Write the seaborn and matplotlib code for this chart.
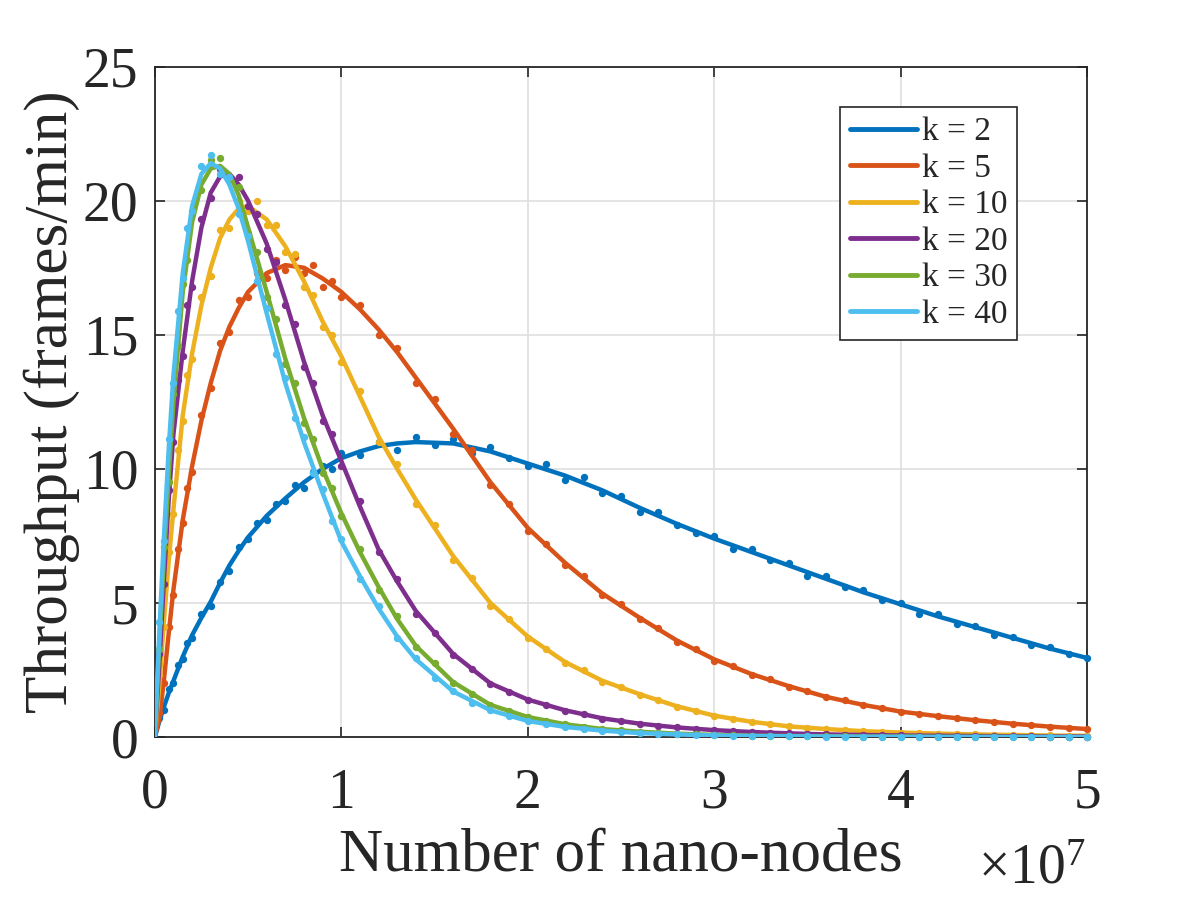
import numpy as np
import pandas as pd
import seaborn as sns
import matplotlib.pyplot as plt

# x positions are in units of 1e7 nano-nodes (axis shows x10^7)
x_line = [0, 0.025, 0.05, 0.075, 0.1, 0.15, 0.2, 0.25, 0.3, 0.35, 0.4, 0.45, 0.5,
          0.6, 0.7, 0.8, 0.9, 1.0, 1.1, 1.2, 1.3, 1.4, 1.6, 1.8, 2.0,
          2.2, 2.4, 2.6, 2.8, 3.0, 3.2, 3.4, 3.6, 3.8, 4.0, 4.2, 4.4, 4.6, 4.8, 5.0]

# fitted curves
k2_line = [0, 0.6, 1.15, 1.65, 2.1, 3.0, 3.8, 4.45, 5.05, 5.75, 6.4, 6.95, 7.45,
           8.25, 8.9, 9.5, 10.0, 10.4, 10.65, 10.85, 10.95, 11.0, 10.95, 10.65, 10.2,
           9.75, 9.2, 8.55, 7.95, 7.4, 6.9, 6.4, 5.9, 5.4, 4.95, 4.5, 4.1, 3.7, 3.3, 2.95]
k5_line = [0, 0.7, 2.2, 3.9, 5.5, 8.1, 10.1, 11.8, 13.2, 14.4, 15.3, 16.0, 16.6,
           17.3, 17.6, 17.5, 17.1, 16.6, 15.95, 15.2, 14.35, 13.4, 11.5, 9.5, 7.8,
           6.5, 5.35, 4.45, 3.6, 2.9, 2.35, 1.9, 1.5, 1.2, 0.95, 0.78, 0.63, 0.5, 0.39, 0.3]
k10_line = [0, 2.0, 4.4, 6.6, 8.5, 12.0, 14.3, 16.1, 17.5, 18.6, 19.3, 19.7, 19.8,
            19.3, 18.3, 17.0, 15.5, 14.2, 12.7, 11.2, 10.0, 8.85, 6.75, 5.0, 3.75,
            2.8, 2.1, 1.6, 1.15, 0.8, 0.57, 0.4, 0.3, 0.22, 0.17, 0.13, 0.1, 0.08, 0.06, 0.05]
k20_line = [0, 2.8, 6.0, 8.9, 11.3, 14.4, 17.0, 19.0, 20.3, 20.9, 21.0, 20.6, 20.0,
            18.4, 16.3, 14.0, 12.0, 10.3, 8.6, 7.0, 5.8, 4.7, 3.1, 2.0, 1.4,
            1.0, 0.7, 0.5, 0.36, 0.26, 0.19, 0.14, 0.1, 0.08, 0.06, 0.05, 0.04, 0.03, 0.02, 0.02]
k30_line = [0, 3.6, 6.8, 9.8, 12.5, 16.6, 19.2, 20.6, 21.2, 21.3, 21.0, 20.2, 19.0,
            16.6, 14.1, 11.9, 10.0, 8.35, 6.9, 5.6, 4.4, 3.4, 2.05, 1.2, 0.75,
            0.48, 0.3, 0.2, 0.13, 0.08, 0.05, 0.04, 0.03, 0.02, 0.02, 0.01, 0.01, 0.01, 0.0, 0.0]
k40_line = [0, 4.0, 7.6, 10.8, 13.5, 17.3, 19.8, 21.0, 21.4, 21.2, 20.6, 19.7, 18.5,
            15.8, 13.2, 11.0, 9.1, 7.3, 6.0, 4.8, 3.75, 2.9, 1.7, 1.0, 0.6,
            0.38, 0.24, 0.15, 0.1, 0.06, 0.04, 0.03, 0.02, 0.01, 0.01, 0.0, 0.0, 0.0, 0.0, 0.0]

# simulated samples (dots)
x_dots = [0.025, 0.05, 0.075, 0.1, 0.125, 0.15, 0.175, 0.2,
          0.25, 0.3, 0.35, 0.4, 0.45, 0.5, 0.55, 0.6, 0.65, 0.7, 0.75, 0.8, 0.85, 0.9, 0.95, 1.0,
          1.1, 1.2, 1.3, 1.4, 1.5, 1.6, 1.7, 1.8, 1.9, 2.0,
          2.1, 2.2, 2.3, 2.4, 2.5, 2.6, 2.7, 2.8, 2.9, 3.0,
          3.1, 3.2, 3.3, 3.4, 3.5, 3.6, 3.7, 3.8, 3.9, 4.0,
          4.1, 4.2, 4.3, 4.4, 4.5, 4.6, 4.7, 4.8, 4.9, 5.0]
k2_dots = [0.7, 1.0, 1.8, 2.0, 2.7, 2.9, 3.5, 3.7,
           4.6, 4.9, 5.8, 6.2, 7.1, 7.4, 8.0, 8.1, 8.7, 8.8, 9.4, 9.3, 9.9, 10.1, 10.0, 10.6,
           10.5, 11.0, 10.7, 11.2, 10.9, 11.1, 10.6, 10.8, 10.4, 10.1,
           10.2, 9.6, 9.7, 9.1, 9.0, 8.4, 8.4, 7.9, 7.6, 7.5,
           7.0, 7.0, 6.6, 6.5, 6.0, 6.0, 5.6, 5.5, 5.1, 5.0,
           4.6, 4.6, 4.2, 4.15, 3.8, 3.75, 3.45, 3.35, 3.1, 2.95]
k5_dots = [0.9, 2.0, 4.1, 5.3, 7.0, 8.0, 9.3, 9.9,
           12.0, 13.0, 14.7, 15.1, 16.3, 16.4, 17.3, 17.1, 17.8, 17.4, 17.9, 17.3, 17.6, 16.8, 17.0, 16.4,
           16.1, 15.0, 14.5, 13.2, 12.6, 11.3, 10.7, 9.4, 8.7, 7.7,
           7.2, 6.4, 6.0, 5.3, 4.95, 4.4, 4.05, 3.55, 3.3, 2.85,
           2.65, 2.3, 2.15, 1.85, 1.72, 1.48, 1.37, 1.18, 1.08, 0.93,
           0.87, 0.77, 0.71, 0.62, 0.57, 0.49, 0.45, 0.38, 0.35, 0.3]
k10_dots = [2.3, 4.1, 6.9, 8.3, 10.7, 11.8, 13.5, 14.1,
            16.4, 17.2, 18.9, 19.0, 20.0, 19.6, 20.0, 19.1, 19.1, 18.1, 18.0, 16.8, 16.5, 15.3, 15.0, 14.0,
            12.9, 11.0, 10.2, 8.7, 7.9, 6.6, 5.95, 4.9, 4.4, 3.7,
            3.3, 2.75, 2.5, 2.05, 1.88, 1.57, 1.4, 1.13, 0.98, 0.79,
            0.69, 0.56, 0.49, 0.4, 0.35, 0.3, 0.26, 0.22, 0.19, 0.17,
            0.15, 0.13, 0.11, 0.1, 0.09, 0.08, 0.07, 0.06, 0.055, 0.05]
k20_dots = [3.1, 5.7, 9.2, 11.0, 13.3, 14.2, 16.1, 16.8,
            19.3, 20.1, 21.2, 20.8, 20.9, 19.8, 19.5, 18.2, 17.7, 16.1, 15.4, 13.8, 13.2, 11.8, 11.3, 10.1,
            8.8, 6.9, 5.9, 4.6, 3.9, 3.05, 2.55, 1.97, 1.7, 1.38,
            1.2, 0.98, 0.86, 0.69, 0.6, 0.5, 0.43, 0.36, 0.31, 0.26,
            0.22, 0.19, 0.16, 0.14, 0.12, 0.1, 0.09, 0.08, 0.07, 0.06,
            0.055, 0.05, 0.045, 0.04, 0.035, 0.03, 0.025, 0.02, 0.02, 0.02]
k30_dots = [3.3, 7.1, 9.5, 12.8, 14.6, 16.9, 17.8, 19.5,
            20.4, 21.5, 21.6, 20.8, 20.5, 18.8, 18.1, 16.4, 15.6, 13.9, 13.2, 11.7, 11.1, 9.85, 9.3, 8.25,
            7.0, 5.5, 4.5, 3.35, 2.75, 2.0, 1.62, 1.18, 0.96, 0.74,
            0.6, 0.48, 0.38, 0.3, 0.25, 0.2, 0.16, 0.13, 0.1, 0.08,
            0.065, 0.05, 0.045, 0.04, 0.035, 0.03, 0.025, 0.02, 0.02, 0.02,
            0.01, 0.01, 0.01, 0.01, 0.01, 0.01, 0.0, 0.0, 0.0, 0.0]
k40_dots = [4.3, 7.3, 11.1, 13.2, 15.9, 17.1, 19.0, 19.6,
            21.3, 21.7, 21.0, 20.9, 19.5, 18.7, 17.0, 16.0, 14.3, 13.4, 11.9, 11.2, 9.85, 9.25, 8.05, 7.4,
            5.9, 4.9, 3.7, 2.95, 2.2, 1.72, 1.28, 1.01, 0.77, 0.6,
            0.48, 0.38, 0.3, 0.24, 0.19, 0.15, 0.12, 0.1, 0.08, 0.06,
            0.05, 0.04, 0.035, 0.03, 0.025, 0.02, 0.015, 0.01, 0.01, 0.01,
            0.0, 0.0, 0.0, 0.0, 0.0, 0.0, 0.0, 0.0, 0.0, 0.0]

labels = ["k = 2", "k = 5", "k = 10", "k = 20", "k = 30", "k = 40"]
colors = ["#0072BD", "#D95319", "#EDB120", "#7E2F8E", "#77AC30", "#4DBEEE"]
lines = [k2_line, k5_line, k10_line, k20_line, k30_line, k40_line]
dots = [k2_dots, k5_dots, k10_dots, k20_dots, k30_dots, k40_dots]

sns.set_style("ticks")
plt.rcParams['font.family'] = ['Liberation Serif', 'DejaVu Serif']
plt.rcParams['mathtext.fontset'] = 'custom'
plt.rcParams['mathtext.rm'] = 'Liberation Serif'
plt.rcParams['mathtext.it'] = 'Liberation Serif'

fig = plt.figure(figsize=(12, 9), dpi=100)
ax = fig.add_axes([0.129, 0.181, 0.777, 0.745])

handles = []
for i in range(len(labels)):
    line_df = pd.DataFrame({'x': x_line, 'y': lines[i]})
    dot_df = pd.DataFrame({'x': x_dots, 'y': dots[i]})
    sns.scatterplot(data=dot_df, x='x', y='y', color=colors[i], s=28, linewidth=0,
                    ax=ax, zorder=3 + 2 * i, legend=False, clip_on=False)
    sns.lineplot(data=line_df, x='x', y='y', color=colors[i], linewidth=3.2,
                 ax=ax, zorder=4 + 2 * i, estimator=None)
    handles.append(ax.lines[-1])

ax.set_xlim(0, 5)
ax.set_ylim(0, 25)
ax.set_xticks([0, 1, 2, 3, 4, 5])
ax.set_yticks([0, 5, 10, 15, 20, 25])
ax.grid(True, color='#dfdfdf', linewidth=1.2)
ax.set_axisbelow(True)
for s in ax.spines.values():
    s.set_color('#262626')
    s.set_linewidth(1.3)
ax.tick_params(direction='in', length=7, width=1.2, color='#262626',
               top=True, right=True, labelsize=40, labelcolor='#262626')
ax.tick_params(axis='x', pad=22)
ax.tick_params(axis='y', pad=12)

ax.set_xlabel("Number of nano-nodes", fontsize=44, color='#262626', labelpad=6)
ax.set_ylabel("Throughput (frames/min)", fontsize=44, color='#262626', labelpad=2)
fig.text(0.905, 0.005, r"$\times10^{7}$", fontsize=40, color='#262626',
         ha='right', va='bottom')

leg = ax.legend(handles, labels, loc='upper right', bbox_to_anchor=(0.925, 0.94),
                fontsize=24, frameon=True, fancybox=False, framealpha=1,
                edgecolor='#262626', handlelength=2.0, handletextpad=0.15,
                labelspacing=0.18, borderpad=0.3, borderaxespad=0)
leg.get_frame().set_linewidth(1.2)
for h in leg.get_lines():
    h.set_linewidth(3.5)

fig.savefig("out.png", dpi=100)
